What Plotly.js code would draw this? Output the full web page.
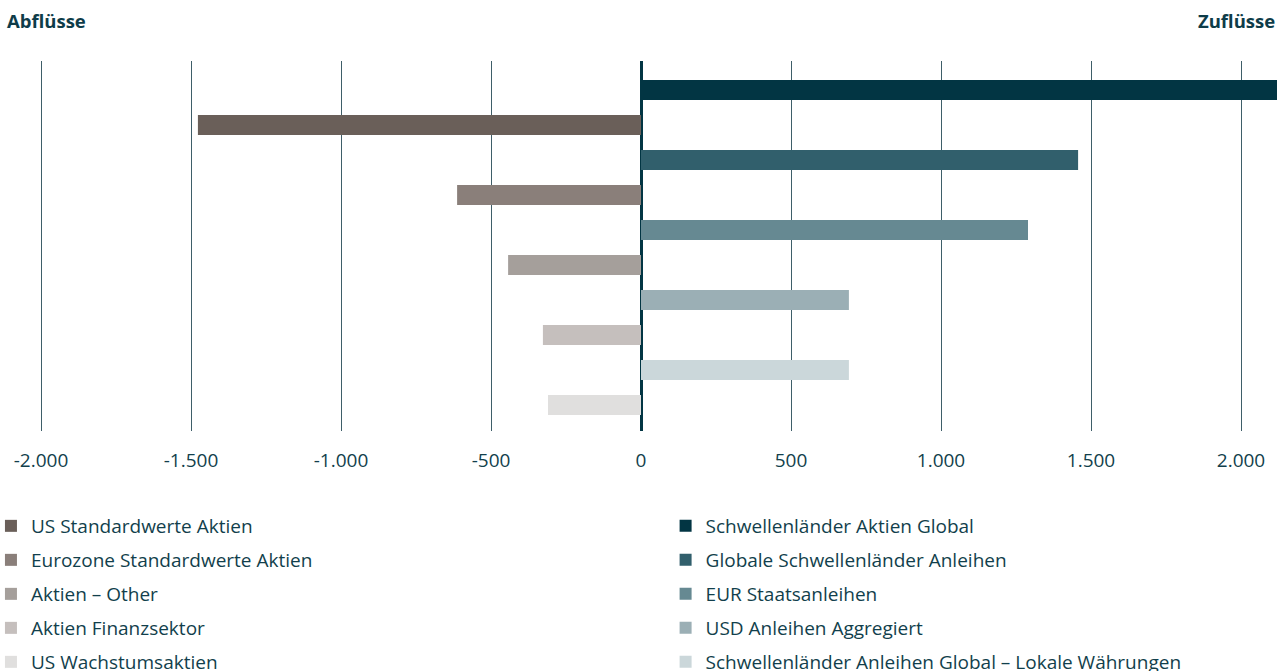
<!DOCTYPE html>
<html>
<head>
<meta charset="utf-8">
<script src="https://cdn.plot.ly/plotly-3.0.1.min.js"></script>
<style>html,body{margin:0;padding:0;background:#fff;}#chart{width:1277px;height:671px;}</style>
</head>
<body>
<div id="chart"></div>
<script>
// Rows from top to bottom
const categories = [
  "Schwellenländer Aktien Global",
  "US Standardwerte Aktien",
  "Globale Schwellenländer Anleihen",
  "Eurozone Standardwerte Aktien",
  "EUR Staatsanleihen",
  "Aktien – Other",
  "USD Anleihen Aggregiert",
  "Aktien Finanzsektor",
  "Schwellenländer Anleihen Global – Lokale Währungen",
  "US Wachstumsaktien"
];
const values = [2200, -1477, 1457, -613, 1290, -443, 693, -327, 693, -310];
const colors = ["#023543", "#6a5f59", "#315f6c", "#8a7f7a", "#668992", "#a59f9b", "#9bafb5", "#c5bfbd", "#cbd7da", "#e0dfde"];

const tickVals = [-2000, -1500, -1000, -500, 0, 500, 1000, 1500, 2000];
const tickText = ["-2.000", "-1.500", "-1.000", "-500", "0", "500", "1.000", "1.500", "2.000"];

const textColor = "#123f4c";
const traces = categories.map((name, i) => ({
  type: "bar",
  orientation: "h",
  name: name,
  x: [values[i]],
  y: [i],
  width: 0.571,
  marker: {color: colors[i], line: {width: 0}},
  legend: values[i] < 0 ? "legend" : "legend2",
  legendgroup: "g" + i,
  hoverinfo: "name+x"
}));

const legendCommon = {
  orientation: "v",
  xanchor: "left",
  yanchor: "top",
  bgcolor: "rgba(0,0,0,0)",
  borderwidth: 0,
  indentation: -7,
  font: {family: "Open Sans, sans-serif", size: 19, color: textColor},
  tracegroupgap: 6.3,
  itemclick: false,
  itemdoubleclick: false,
  traceorder: "grouped"
};

const layout = {
  width: 1277,
  height: 671,
  margin: {l: 0, r: 0, t: 61, b: 240, autoexpand: false},
  paper_bgcolor: "#ffffff",
  plot_bgcolor: "#ffffff",
  barmode: "overlay",
  showlegend: true,
  font: {family: "Open Sans, sans-serif", size: 19, color: textColor},
  xaxis: {
    range: [-2136.7, 2120],
    tickvals: tickVals,
    ticktext: tickText,
    showgrid: true,
    gridcolor: "#3e5e69",
    gridwidth: 1,
    zeroline: true,
    zerolinecolor: "#023543",
    zerolinewidth: 3,
    showline: false,
    ticks: "",
    ticklabelstandoff: 16,
    automargin: false,
    tickfont: {family: "Open Sans, sans-serif", size: 19, color: textColor},
    fixedrange: true
  },
  yaxis: {
    range: [9.743, -0.829],
    showticklabels: false,
    showgrid: false,
    zeroline: false,
    showline: false,
    ticks: "",
    automargin: false,
    fixedrange: true
  },
  legend: Object.assign({}, legendCommon, {x: -0.0016, y: -0.2054}),
  legend2: Object.assign({}, legendCommon, {x: 0.5267, y: -0.2054}),
  annotations: [
    {text: "<b>Abflüsse</b>", xref: "paper", yref: "paper", x: 0, xshift: 5, y: 1, yshift: 41, xanchor: "left", yanchor: "middle", showarrow: false,
     font: {family: "Open Sans, sans-serif", size: 18.5, color: "#0e3c49"}},
    {text: "<b>Zuflüsse</b>", xref: "paper", yref: "paper", x: 1, xshift: 0, y: 1, yshift: 41, xanchor: "right", yanchor: "middle", showarrow: false,
     font: {family: "Open Sans, sans-serif", size: 18.5, color: "#0e3c49"}}
  ]
};

Plotly.newPlot("chart", traces, layout, {displayModeBar: false, responsive: false});
</script>
</body>
</html>
